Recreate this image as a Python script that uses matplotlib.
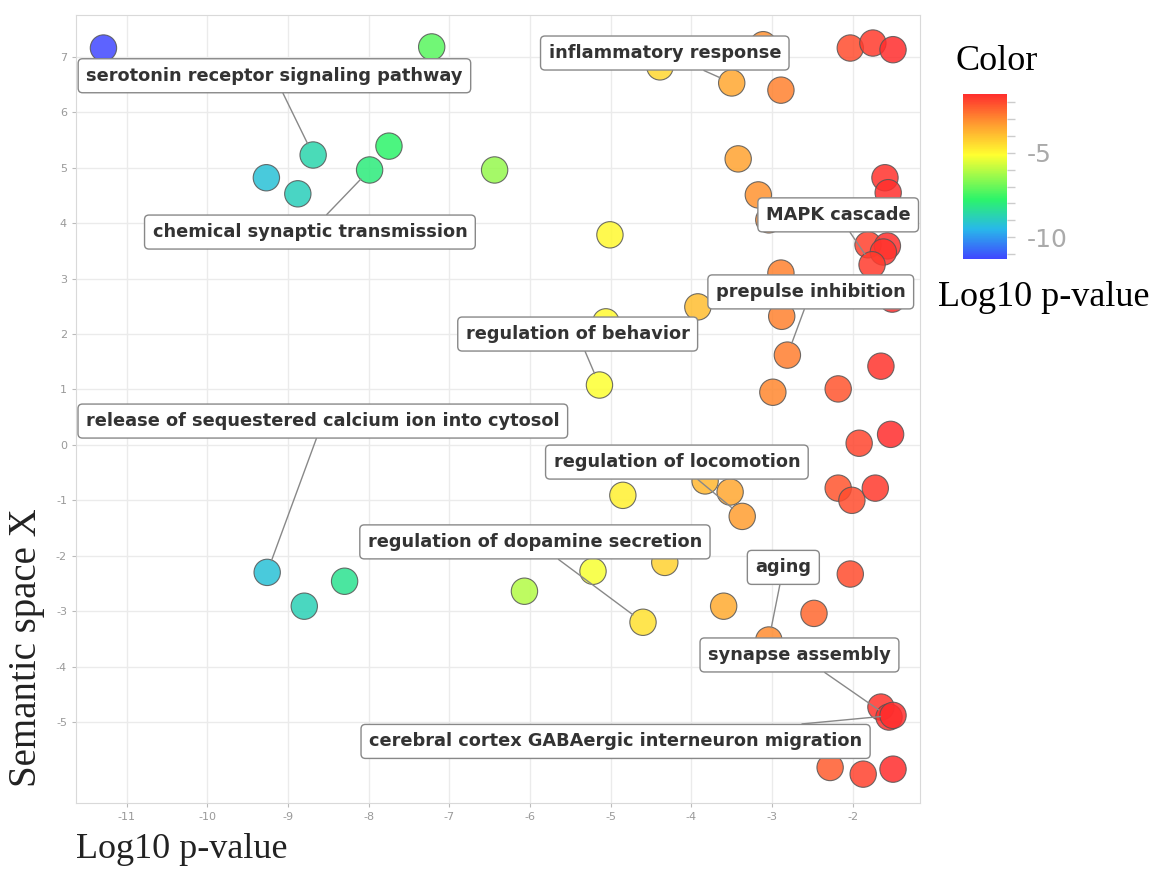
import numpy as np
import matplotlib.pyplot as plt
from matplotlib.colors import LinearSegmentedColormap
from matplotlib.ticker import MultipleLocator

plt.rcParams["axes.unicode_minus"] = False

# GO terms: log10 p-value (x), semantic position (y)
log_p = [-11.29, -7.22, -8.69, -9.27, -8.88, -7.99, -7.75, -6.44, -4.39, -3.50,
         -2.89, -3.11, -2.03, -1.75, -1.50, -3.42, -3.17, -3.04, -1.60, -1.56,
         -1.81, -1.57, -1.62, -1.76, -2.89, -1.51, -5.01, -3.92, -5.06, -2.88,
         -2.81, -5.14, -2.99, -2.18, -1.65, -1.92, -1.53, -3.83, -3.52, -3.37,
         -4.85, -2.18, -2.01, -1.72, -9.26, -8.80, -8.30, -6.07, -5.22, -4.33,
         -4.60, -3.60, -3.04, -2.03, -2.48, -1.65, -1.55, -1.50, -2.28, -1.87,
         -1.50]
sem_y = [7.16, 7.18, 5.23, 4.82, 4.53, 4.96, 5.39, 4.96, 6.82, 6.53,
         6.40, 7.22, 7.16, 7.25, 7.13, 5.16, 4.51, 4.06, 4.82, 4.55,
         3.61, 3.59, 3.48, 3.25, 3.10, 2.63, 3.79, 2.49, 2.22, 2.32,
         1.62, 1.08, 0.95, 1.01, 1.42, 0.03, 0.19, -0.65, -0.85, -1.29,
         -0.91, -0.78, -1.00, -0.78, -2.30, -2.91, -2.46, -2.64, -2.28, -2.12,
         -3.20, -2.91, -3.52, -2.33, -3.04, -4.73, -4.91, -4.88, -5.82, -5.94,
         -5.85]

# labelled terms: (name, index of the point)
terms = [("serotonin receptor signaling pathway", 2),
         ("chemical synaptic transmission", 5),
         ("inflammatory response", 9),
         ("MAPK cascade", 23),
         ("prepulse inhibition", 30),
         ("regulation of behavior", 31),
         ("release of sequestered calcium ion into cytosol", 44),
         ("regulation of locomotion", 39),
         ("regulation of dopamine secretion", 50),
         ("aging", 52),
         ("synapse assembly", 56),
         ("cerebral cortex GABAergic interneuron migration", 57)]
# where the label boxes sit
label_pos = [(-9.17, 6.66), (-8.73, 3.84), (-4.33, 7.07), (-2.18, 4.15),
             (-2.52, 2.76), (-5.41, 2.00), (-8.57, 0.43), (-4.18, -0.31),
             (-5.94, -1.75), (-2.86, -2.21), (-2.66, -3.79), (-4.94, -5.35)]

cmap = LinearSegmentedColormap.from_list(
    "rainbow_p", [(0.0, "#4048ff"), (0.18, "#28b8ea"), (0.36, "#2cf46a"),
                  (0.63, "#ffff30"), (0.82, "#ff9a30"), (1.0, "#ff2d2d")])

fig = plt.figure(figsize=(11.52, 8.69), dpi=100)
ax = fig.add_axes([0.066, 0.076, 0.733, 0.907])

sc = ax.scatter(log_p, sem_y, c=log_p, cmap=cmap, vmin=-11.3, vmax=-1.5,
                s=360, alpha=0.85, edgecolors="#555555", linewidths=0.8, zorder=3)

for (name, i), (lx, ly) in zip(terms, label_pos):
    ax.annotate(name, xy=(log_p[i], sem_y[i]), xytext=(lx, ly),
                ha="center", va="center", fontsize=12.8, fontweight="bold",
                color="#333333", zorder=6,
                bbox=dict(boxstyle="round,pad=0.45,rounding_size=0.25",
                          fc="white", ec="#888888", lw=1),
                arrowprops=dict(arrowstyle="-", color="#888888", lw=1,
                                shrinkA=0, shrinkB=9))

ax.set_xlim(-11.63, -1.16)
ax.set_ylim(-6.46, 7.76)
ax.set_xticks(np.arange(-11, -1))
ax.set_yticks(np.arange(-5, 8))
ax.grid(color="#ebebeb", lw=1)
ax.set_axisbelow(True)
for sp in ax.spines.values():
    sp.set_color("#d9d9d9")
ax.tick_params(colors="#bbbbbb", labelcolor="#999999", labelsize=8, length=3)

serif = "Liberation Serif"
ax.set_xlabel("Log10 p-value", family=serif, fontsize=26, loc="left", labelpad=8)
ax.set_ylabel("Semantic space X", family=serif, fontsize=28, loc="bottom")
ax.xaxis.label.set_color("#222222")
ax.yaxis.label.set_color("#222222")
ax.yaxis.set_label_coords(-0.037, 0.02)

# colour bar
cax = fig.add_axes([0.836, 0.702, 0.038, 0.19])
cb = fig.colorbar(sc, cax=cax)
cb.solids.set_alpha(1)
cb.outline.set_visible(False)
cb.set_ticks([-10, -5])
cb.ax.yaxis.set_minor_locator(MultipleLocator(1))
cb.ax.tick_params(which="both", colors="#cccccc", labelcolor="#aaaaaa",
                  labelsize=18, length=6, width=1, pad=8)
fig.text(0.865, 0.929, "Color", family=serif, fontsize=26, ha="center", va="center")
fig.text(0.906, 0.658, "Log10 p-value", family=serif, fontsize=26, ha="center", va="center")

fig.savefig("out.png", dpi=100)
